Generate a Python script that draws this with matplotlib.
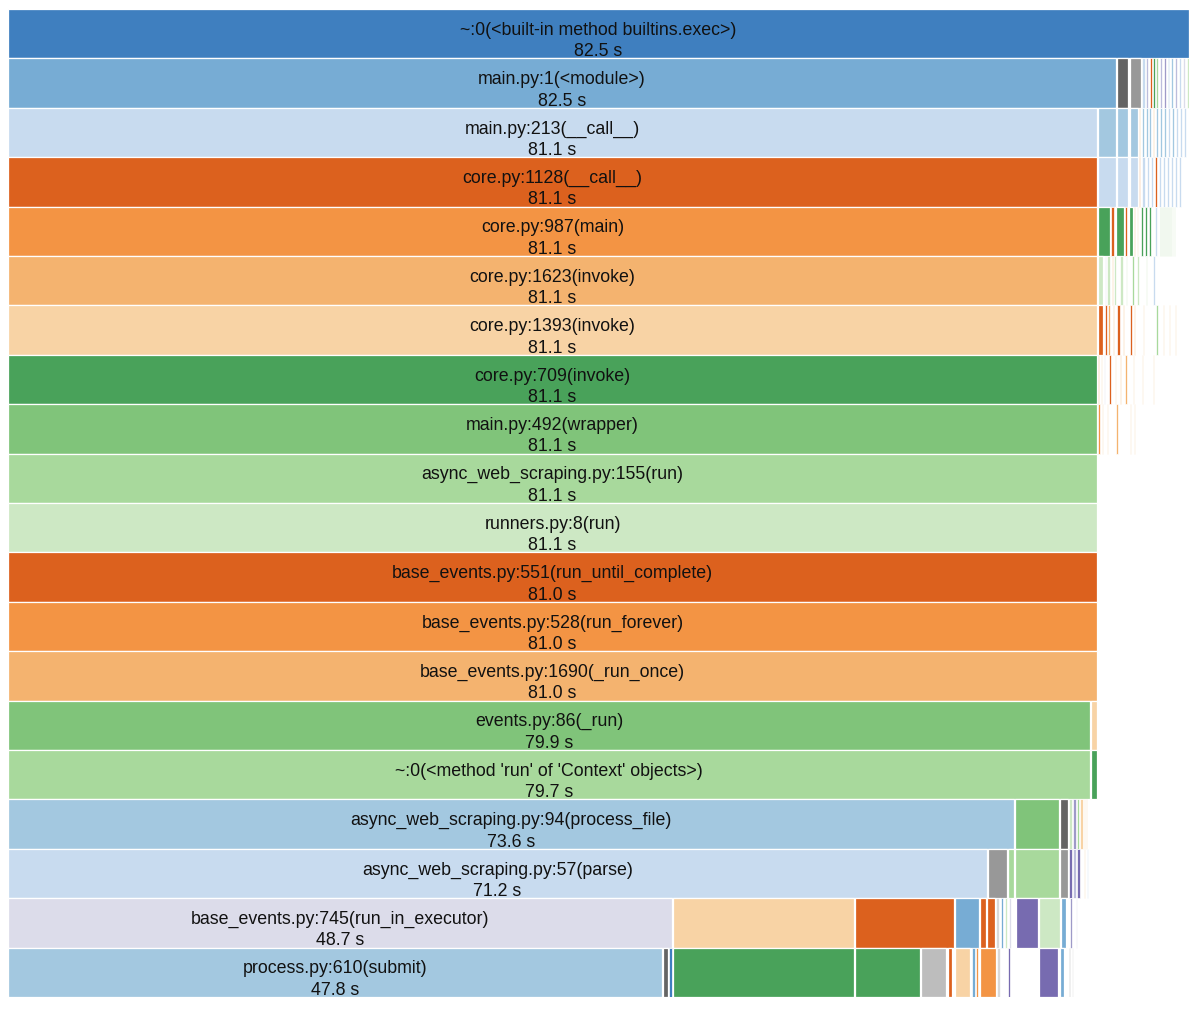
import matplotlib
matplotlib.use("Agg")
import matplotlib.pyplot as plt
import numpy as np

# ---------------- data ----------------
frame_labels = [
    "~:0(<built-in method builtins.exec>)",
    "main.py:1(<module>)",
    "main.py:213(__call__)",
    "core.py:1128(__call__)",
    "core.py:987(main)",
    "core.py:1623(invoke)",
    "core.py:1393(invoke)",
    "core.py:709(invoke)",
    "main.py:492(wrapper)",
    "async_web_scraping.py:155(run)",
    "runners.py:8(run)",
    "base_events.py:551(run_until_complete)",
    "base_events.py:528(run_forever)",
    "base_events.py:1690(_run_once)",
    "events.py:86(_run)",
    "~:0(<method 'run' of 'Context' objects>)",
    "async_web_scraping.py:94(process_file)",
    "async_web_scraping.py:57(parse)",
    "base_events.py:745(run_in_executor)",
    "process.py:610(submit)",
]
frame_times = [82.5, 82.5, 81.1, 81.1, 81.1, 81.1, 81.1, 81.1, 81.1, 81.1,
               81.1, 81.0, 81.0, 81.0, 79.9, 79.7, 73.6, 71.2, 48.7, 47.8]

# relative display widths (share of root = 1181) and colour keys; None = empty
N = None
frame_segments = [
    [(1181, 'b1')],
    [(1108, 'b2'), (1, N), (11, 'k1'), (2, N), (11, 'k2'), (1, N), (3, 'b4'), (1, N), (2, 'p3'),
     (2, N), (2, 'o1'), (1, N), (2, 'g1'), (1, N), (2, 'g3'), (2, N), (2, 'p3'), (2, N), (2, 'p2'),
     (2, N), (1, 'b2'), (2, N), (2, 'b3'), (2, N), (2, 'p3'), (2, N), (2, 'b4'), (2, N), (2, 'p4'),
     (2, N), (2, 'g4')],
    [(1089, 'b4'), (1, N), (18, 'b3'), (1, N), (11, 'b3'), (2, N), (8, 'b3'), (1, N), (1, 'o3'),
     (2, N), (2, 'b3'), (2, N), (2, 'b3'), (1, N), (2, 'b3'), (2, N), (1, 'o3'), (2, N), (2, 'b3'),
     (2, N), (2, 'b3'), (2, N), (2, 'b3'), (2, N), (2, 'b4'), (2, N), (2, 'b3'), (2, N), (2, 'b4'),
     (2, N), (2, 'b4'), (2, N), (2, 'b4')],
    [(1089, 'o1'), (1, N), (18, 'b4'), (1, N), (11, 'b4'), (2, N), (8, 'b4'), (1, N), (1, 'o2'),
     (2, N), (3, 'b4'), (2, N), (2, 'b4'), (2, N), (2, 'b4'), (2, N), (2, 'o1'), (2, N), (2, 'b4'),
     (2, N), (2, 'b4'), (2, N), (2, 'b4'), (2, N), (2, 'b4'), (2, N), (2, 'b4'), (2, N), (2, 'b4')],
    [(1089, 'o2'), (1, N), (12, 'g1'), (1, N), (3, 'o1'), (2, N), (8, 'g1'), (1, N), (2, 'o1'),
     (2, N), (4, 'g1'), (1, N), (1, 'o3'), (2, N), (1, 'o4'), (3, N), (2, 'g1'), (2, N), (2, 'g1'),
     (2, N), (2, 'g1'), (4, N), (2, 'b4'), (3, N), (1, 'g3'), (1, N), (1, 'g3'), (1, N), (1, 'g3'),
     (1, N), (1, 'g3'), (1, N), (1, 'g3'), (1, N), (1, 'g3'), (1, N), (1, 'g4'), (1, N), (1, 'g4')],
    [(1089, 'o3'), (1, N), (5, 'g4'), (2, N), (1, 'p4'), (1, N), (3, 'g4'), (2, N), (1, 'o3'),
     (1, N), (2, 'g4'), (4, N), (3, 'g4'), (3, N), (1, 'g4'), (5, N), (2, 'g3'), (3, N), (2, 'g4'),
     (7, N), (1, 'g4'), (6, N), (2, 'b4')],
    [(1089, 'o4'), (1, N), (5, 'o1'), (2, N), (2, 'o1'), (1, N), (2, 'o3'), (3, N), (1, 'o3'),
     (3, N), (3, 'o1'), (3, N), (1, 'o3'), (6, N), (2, 'o1'), (2, N), (1, 'o3'), (8, N), (1, 'o4'),
     (12, N), (2, 'g3'), (5, N), (1, 'o4'), (5, N), (1, 'o4'), (5, N), (1, 'o4')],
    [(1089, 'g1'), (1, N), (1, 'o2'), (2, N), (1, 'o4'), (2, N), (1, 'p4'), (4, N), (2, 'o1'),
     (4, N), (1, 'o4'), (4, N), (1, 'o3'), (4, N), (2, 'o3'), (6, N), (1, 'o4'), (8, N), (1, 'o4'),
     (10, N), (1, 'o4')],
    [(1089, 'g2'), (1, N), (2, 'o2'), (2, N), (1, 'o4'), (4, N), (1, 'o4'), (8, N), (2, 'o3'),
     (12, N), (1, 'o4'), (3, N), (1, 'o4')],
    [(1089, 'g3')],
    [(1089, 'g4')],
    [(1089, 'o1')],
    [(1089, 'o2')],
    [(1089, 'o3')],
    [(1082, 'g2'), (1, N), (6, 'o4')],
    [(1082, 'g3'), (1, N), (6, 'g1')],
    [(1006, 'b3'), (1, N), (44, 'g2'), (1, N), (8, 'k1'), (1, N), (3, 'g4'), (1, N), (3, 'p2'),
     (1, N), (2, 'g3'), (1, N), (3, 'o4'), (1, N), (1, 'o4'), (1, N), (1, 'o4')],
    [(979, 'b4'), (1, N), (19, 'k2'), (1, N), (6, 'g3'), (1, N), (44, 'g3'), (1, N), (8, 'k2'),
     (1, N), (3, 'p1'), (1, N), (3, 'p3'), (1, N), (3, 'p1'), (4, N), (1, 'o4'), (2, N), (1, 'b4')],
    [(664, 'p4'), (1, N), (181, 'o4'), (1, N), (99, 'o1'), (1, N), (24, 'b2'), (1, N), (6, 'o1'),
     (1, N), (8, 'o1'), (1, N), (3, 'k4'), (2, N), (2, 'b2'), (2, N), (2, 'g4'), (2, N), (2, 'p4'),
     (5, N), (22, 'p1'), (1, N), (21, 'g4'), (1, N), (5, 'b2'), (4, N), (2, 'p2'), (4, N), (1, 'p4')],
    [(654, 'b3'), (1, N), (5, 'k1'), (1, N), (3, 'b1'), (1, N), (181, 'g1'), (1, N), (65, 'g1'),
     (1, N), (25, 'k3'), (2, N), (4, 'o1'), (3, N), (15, 'o4'), (2, N), (3, 'b2'), (1, N), (2, 'o2'),
     (2, N), (16, 'o2'), (1, N), (3, 'k4'), (8, N), (2, 'p1'), (29, N), (19, 'p1'), (2, N),
     (4, 'b2'), (5, N), (1, 'k2'), (2, N), (1, 'k4')],
]
root_total = 1181

# ---------------- style ----------------
palette = {
    'b1': '#3f7fbf', 'b2': '#77acd4', 'b3': '#a3c8e0', 'b4': '#c8dbef',
    'o1': '#dc611e', 'o2': '#f39444', 'o3': '#f4b36f', 'o4': '#f8d3a5',
    'g1': '#49a25a', 'g2': '#80c47a', 'g3': '#a8d99c', 'g4': '#cde8c4',
    'p1': '#776bb0', 'p2': '#9e9ac8', 'p3': '#bcbddc', 'p4': '#dcdcea',
    'k1': '#646464', 'k2': '#989898', 'k3': '#bdbdbd', 'k4': '#d9d9d9',
}

plt.rcParams['font.family'] = ['Liberation Sans', 'DejaVu Sans']

W, H = 1196, 1012
fig = plt.figure(figsize=(W / 100, H / 100), dpi=100)
ax = fig.add_axes([8 / W, (H - 998) / H, root_total / W, 988 / H])
ax.set_xlim(0, root_total)
ax.set_ylim(len(frame_segments), 0)
ax.axis('off')

for i, segs in enumerate(frame_segments):
    widths = np.array([s[0] for s in segs], dtype=float)
    lefts = np.concatenate([[0], np.cumsum(widths)[:-1]])
    for (w, c), l in zip(segs, lefts):
        if c is None or l >= root_total:
            continue
        w = min(w, root_total - l)
        lw = 0.9 if w >= 4 else 0.5
        ax.barh(i + 0.5, w, left=l, height=1.0, color=palette[c],
                edgecolor='white', linewidth=lw)
    # label on the first (main) block
    w0 = widths[0]
    ax.text(w0 / 2, i + 0.41, frame_labels[i], ha='center', va='center',
            fontsize=12.8, color='#111111')
    ax.text(w0 / 2, i + 0.845, f"{frame_times[i]:.1f} s", ha='center', va='center',
            fontsize=12.8, color='#111111')

fig.savefig('out.png', dpi=100)
